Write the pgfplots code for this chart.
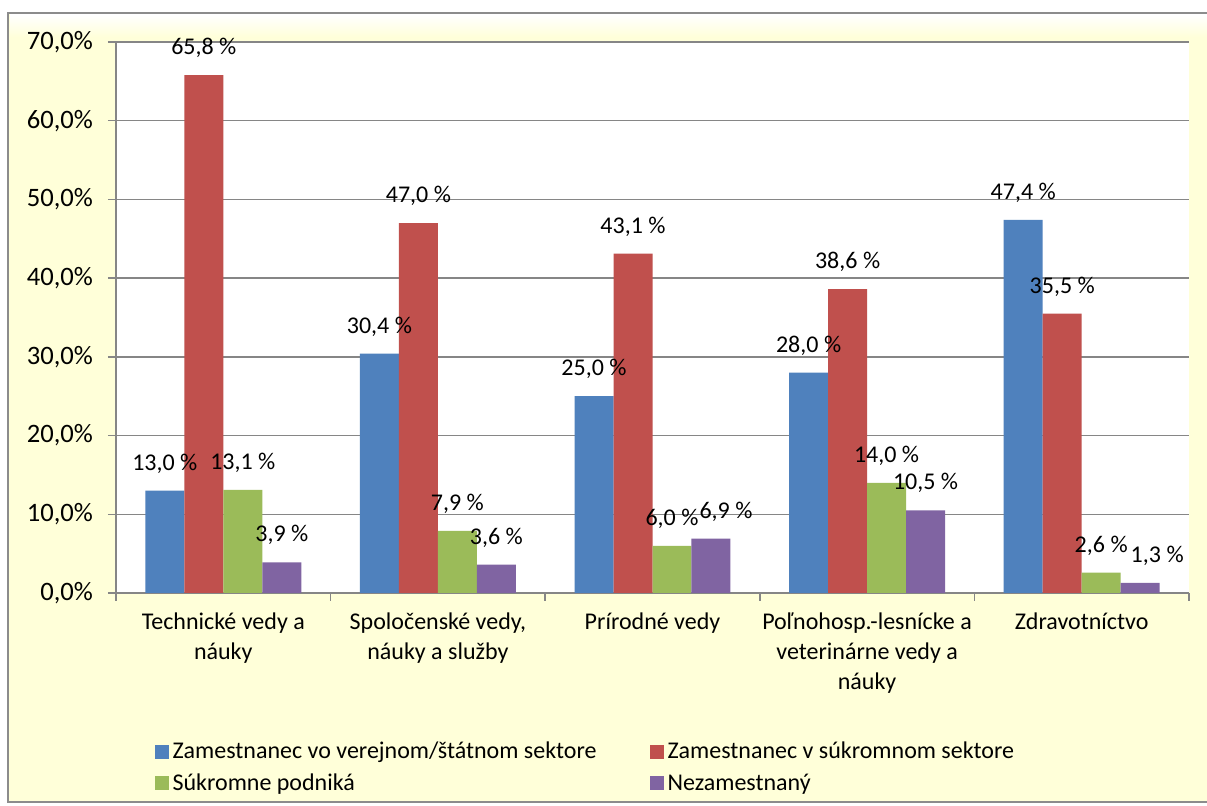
\documentclass[border=0pt]{standalone}
\usepackage{fontspec}
\setmainfont{Carlito}
\usepackage{pgfplots}
\pgfplotsset{compat=1.18}

\definecolor{bgyellow}{HTML}{FFFFD9}
\definecolor{framegray}{HTML}{8C8C8C}
\definecolor{gridgray}{HTML}{868686}
\definecolor{sblue}{HTML}{4F81BD}
\definecolor{sred}{HTML}{C0504D}
\definecolor{sgreen}{HTML}{9BBB59}
\definecolor{spurple}{HTML}{8064A2}

\begin{document}
\begin{tikzpicture}
\useasboundingbox (-58pt,-106.5pt) rectangle (545.5pt,296.5pt);
% chart area
\fill[bgyellow] (-54pt,-104.5pt) rectangle (547pt,290pt);
\shade[top color=white, bottom color=bgyellow] (-53pt,278pt) rectangle (547pt,289pt);
\draw[framegray, line width=1pt] (-54pt,-104.5pt) rectangle (547pt,290pt);

\begin{axis}[
    scale only axis,
    width=536.5pt, height=275.5pt,
    ybar=0pt,
    bar width=0.1817,
    xmin=-0.5, xmax=4.5,
    ymin=0, ymax=70,
    ytick={0,10,...,70},
    xtick={0,1,2,3,4},
    xticklabels={{Technické vedy a\\náuky}, {Spoločenské vedy,\\náuky a služby}, {Prírodné vedy}, {Poľnohosp.-lesnícke a\\veterinárne vedy a\\náuky}, {Zdravotníctvo}},
    minor xtick={-0.5,0.5,...,4.5},
    major x tick style={draw=none},
    tick align=outside,
    major tick length=4pt,
    minor tick length=4pt,
    tick style={gridgray, line width=0.75pt},
    axis x line*=bottom,
    axis y line*=left,
    axis line style={gridgray, line width=0.75pt, -},
    ymajorgrids,
    major grid style={gridgray, line width=0.75pt},
    axis background/.style={fill=white},
    /pgf/number format/assume math mode=true,
    yticklabel={\pgfmathprintnumber[fixed,fixed zerofill,precision=1,use comma]{\tick}\%},
    yticklabel style={font=\fontsize{13.3pt}{15pt}\selectfont, xshift=-4pt},
    xticklabel style={font=\fontsize{12pt}{15pt}\selectfont, align=center, yshift=-2.5pt},
    nodes near coords={\pgfmathprintnumber[fixed,fixed zerofill,precision=1,use comma]{\pgfplotspointmeta}~\%},
    every node near coord/.append style={font=\fontsize{12pt}{14pt}\selectfont, black, anchor=center, yshift=13.5pt},
    legend columns=2,
    legend cell align=left,
    legend style={draw=none, fill=none, font=\fontsize{12pt}{14pt}\selectfont,
        at={(axis description cs:0.03,-0.255)}, anchor=north west,
        /tikz/every even column/.append style={column sep=24.5pt},
        row sep=2pt},
    legend image code/.code={\fill[#1] (0pt,-3.5pt) rectangle (7pt,3.5pt);},
]
\addplot[fill=sblue, draw=none] coordinates {(0,13.0) (1,30.4) (2,25.0) (3,28.0) (4,47.4)};
\addlegendentry{Zamestnanec vo verejnom/štátnom sektore}
\addplot[fill=sred, draw=none] coordinates {(0,65.8) (1,47.0) (2,43.1) (3,38.6) (4,35.5)};
\addlegendentry{Zamestnanec v súkromnom sektore}
\addplot[fill=sgreen, draw=none] coordinates {(0,13.1) (1,7.9) (2,6.0) (3,14.0) (4,2.6)};
\addlegendentry{Súkromne podniká}
\addplot[fill=spurple, draw=none,
    coordinate style/.condition={\coordindex==2}{xshift=7.5pt},
    coordinate style/.condition={\coordindex==4}{xshift=8.5pt}] coordinates {(0,3.9) (1,3.6) (2,6.9) (3,10.5) (4,1.3)};
\addlegendentry{Nezamestnaný}
\end{axis}
\end{tikzpicture}
\end{document}
